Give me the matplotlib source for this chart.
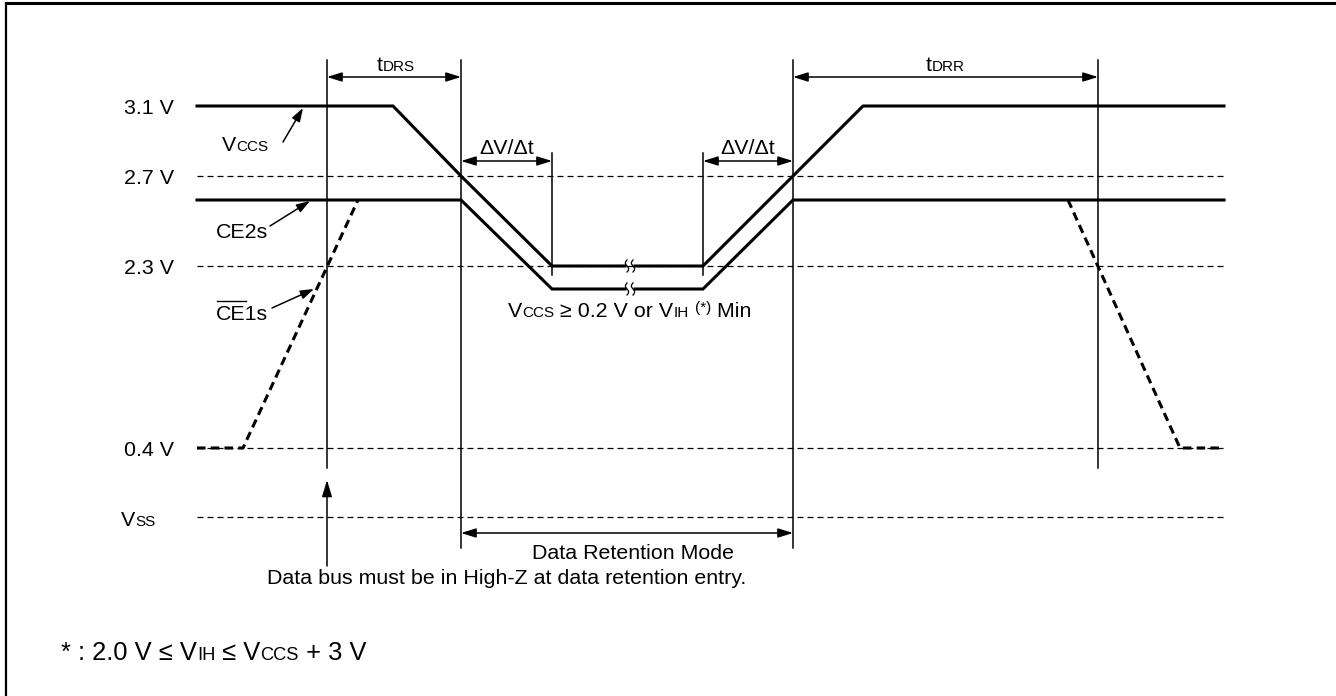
import numpy as np
import matplotlib.pyplot as plt

plt.rcParams['font.family'] = ['Liberation Sans', 'DejaVu Sans']

# --- diagram data: time runs left->right, rows run top->bottom ---
level_labels = ['3.1 V', '2.7 V', '2.3 V', '0.4 V']
level_rows = [106, 176, 266, 448]
vss_row = 517
ref_rows = [176, 266, 448, 517]          # dashed reference levels
t_start, t_end = 197, 1224

# Vccs (split at the time break)
vccs_a_t = [197, 393, 461, 552, 625]
vccs_a_v = [106, 106, 176, 266, 266]
vccs_b_t = [635, 703, 793, 863, 1224]
vccs_b_v = [266, 266, 176, 106, 106]

# CE2s
ce2_a_t = [197, 461, 552, 625]
ce2_a_v = [200, 200, 289, 289]
ce2_b_t = [635, 703, 793, 1224]
ce2_b_v = [289, 289, 200, 200]

# /CE1s (dashed)
ce1_a_t = [197, 243, 358]
ce1_a_v = [448, 448, 200]
ce1_b_t = [1068, 1180, 1224]
ce1_b_v = [200, 448, 448]

break_t = [627, 633]
break_rows = [266, 289]

# timing markers
mark_t = [327, 461, 793, 1098]
mark_bottom = [468, 548, 548, 468]
mark_top = 60
dv_t = [552, 703]

BIG = 15.4
SMALL = 11

fig = plt.figure(figsize=(13.36, 6.96), dpi=100)
ax = fig.add_axes([0, 0, 1, 1])
ax.set_xlim(0, 1336)
ax.set_ylim(696, 0)
ax.axis('off')
renderer = fig.canvas.get_renderer()


def text_width(s, size):
    """width in px of a string, spaces included"""
    t1 = ax.text(0, 0, '|' + s + '|', fontsize=size)
    t2 = ax.text(0, 0, '||', fontsize=size)
    w = t1.get_window_extent(renderer).width - t2.get_window_extent(renderer).width
    t1.remove()
    t2.remove()
    return w


def rich(x, y, parts, ha='left'):
    """parts: list of (text, size, raise_px)"""
    widths = [text_width(p[0], p[1]) for p in parts]
    total = sum(widths)
    if ha == 'center':
        x -= total / 2
    elif ha == 'right':
        x -= total
    for p, w in zip(parts, widths):
        rise = p[2] if len(p) > 2 else 0
        ax.text(x, y - rise, p[0], fontsize=p[1], ha='left', va='baseline')
        x += w
    return total


def arrow(x0, y0, x1, y1, both=False, hl=0.9, hw=0.28, ms=10):
    style = ('<|-|>' if both else '-|>') + f',head_length={hl},head_width={hw}'
    ax.annotate('', xy=(x1, y1), xytext=(x0, y0),
                arrowprops=dict(arrowstyle=style, mutation_scale=ms, lw=1.1,
                                color='black', shrinkA=0, shrinkB=0))


# frame
ax.plot([6, 1336], [3, 3], color='black', lw=2.2, solid_capstyle='butt')
ax.plot([6, 6], [2, 696], color='black', lw=1.6, solid_capstyle='butt')

# dashed reference levels
for r in ref_rows:
    ax.plot([t_start, t_end], [r, r], color='black', lw=0.9,
            linestyle=(0, (4.8, 3.2)))

# waveforms
for t, v in [(vccs_a_t, vccs_a_v), (vccs_b_t, vccs_b_v),
             (ce2_a_t, ce2_a_v), (ce2_b_t, ce2_b_v)]:
    ax.plot(t, v, color='black', lw=2.2, solid_joinstyle='miter')
for t, v in [(ce1_a_t, ce1_a_v), (ce1_b_t, ce1_b_v)]:
    ax.plot(t, v, color='black', lw=2.2, linestyle=(0, (2.8, 1.7)))

# time break marks
s = np.linspace(-1, 1, 30)
for r in break_rows:
    for bt in break_t:
        ax.plot(bt + 1.6 * np.sin(s * np.pi), r + 6 * s, color='black', lw=0.9)

# timing markers
for t, b in zip(mark_t, mark_bottom):
    ax.plot([t, t], [mark_top, b], color='black', lw=1.1)
for t in dv_t:
    ax.plot([t, t], [153, 275], color='black', lw=1.1)

# dimension arrows
arrow(mark_t[0], 77, mark_t[1], 77, both=True)
arrow(mark_t[2], 77, mark_t[3], 77, both=True)
arrow(mark_t[1], 161, dv_t[0], 161, both=True)
arrow(dv_t[1], 161, mark_t[2], 161, both=True)
arrow(mark_t[1], 533, mark_t[2], 533, both=True)

# pointer arrows
arrow(283, 142, 303, 108, hl=0.9, hw=0.3, ms=9)
arrow(270, 226, 310, 201, hl=0.9, hw=0.3, ms=9)
arrow(272, 308, 314, 289, hl=0.9, hw=0.3, ms=9)
arrow(mark_t[0], 566, mark_t[0], 480, hl=1.0, hw=0.3, ms=10)

# level labels
for lab, r in zip(level_labels, level_rows):
    ax.text(174, r + 8, lab, fontsize=BIG, ha='right', va='baseline')
rich(121, vss_row + 9, [('V', BIG), ('SS', SMALL)])

# signal names
rich(222, 151, [('V', BIG), ('CCS', SMALL)])
ax.text(216, 238, 'CE2s', fontsize=BIG, ha='left', va='baseline')
ax.text(216, 320, 'CE1s', fontsize=BIG, ha='left', va='baseline')
w_ce = text_width('CE', BIG)
ax.plot([217, 216 + w_ce], [301, 301], color='black', lw=1.0)

# timing names
rich(396, 71, [('t', BIG), ('DRS', SMALL)], ha='center')
rich(945, 71, [('t', BIG), ('DRR', SMALL)], ha='center')
for cx in [507, 748]:
    ax.text(cx, 154, 'ΔV/Δt', fontsize=BIG, ha='center', va='baseline')

rich(508, 317, [('V', BIG), ('CCS', SMALL), (' ≥ 0.2 V or V', BIG), ('IH', SMALL),
                (' ', BIG), ('(*)', SMALL, 5), (' Min', BIG)])

ax.text(633, 559, 'Data Retention Mode', fontsize=BIG, ha='center', va='baseline')
ax.text(267, 584, 'Data bus must be in High-Z at data retention entry.',
        fontsize=BIG, ha='left', va='baseline')

# footnote
FB, FS = 18.4, 13.2
rich(61, 660, [('* : 2.0 V ≤ V', FB), ('IH', FS), (' ≤ V', FB), ('CCS', FS),
               (' + 3 V', FB)])

fig.savefig('out.png', dpi=100)
